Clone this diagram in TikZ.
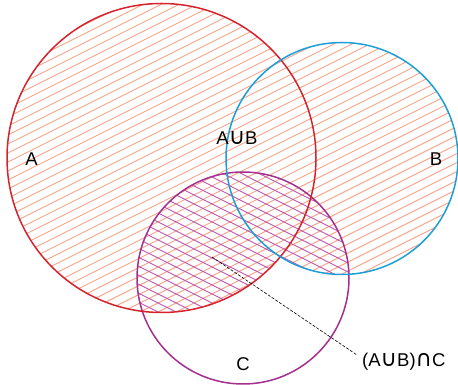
\documentclass[tikz,border=0pt]{standalone}
\usepackage{fontspec}
\setmainfont{Liberation Sans}
\newfontfamily\symfont{DejaVu Sans}
\newcommand{\setunion}{{\symfont\fontsize{22.5}{22.5}\selectfont ∪}}
\newcommand{\setinter}{{\symfont\fontsize{22.5}{22.5}\selectfont ∩}}
\definecolor{setred}{HTML}{D5232C}
\definecolor{setblue}{HTML}{1C9FD6}
\definecolor{setpurple}{HTML}{A3308D}
\definecolor{hatchred}{HTML}{F6A58A}
\definecolor{hatchpurple}{HTML}{BE55AE}
\tikzset{
  rim/.style={line width=1.5pt},
  hatch/.style={line width=0.9pt},
  lbl/.style={font=\fontsize{18.5}{21}\selectfont, inner sep=0pt},
}
\begin{document}
\begin{tikzpicture}[x=1pt,y=1pt]
\useasboundingbox (0,0) rectangle (458,385);
% centres of the three sets
\coordinate (ca) at (161.5,227);
\coordinate (cb) at (342,226.5);
\coordinate (cc) at (243,107);
% A union B: rising hatch
\begin{scope}
  \clip (ca) circle (154.5) (cb) circle (116);
  \foreach \c in {-240,-231,...,400}
    \draw[hatch, hatchred] (0,\c) -- (460,\c+230);
\end{scope}
% (A union B) intersect C: falling hatch on top
\begin{scope}
  \clip (ca) circle (154.5) (cb) circle (116);
  \clip (cc) circle (106);
  \foreach \c in {-10,-1,...,640}
    \draw[hatch, hatchpurple] (0,\c) -- (460,\c-230);
\end{scope}
% outlines
\draw[rim, setpurple] (cc) circle (106);
\draw[rim, setred] (ca) circle (154.5);
\draw[rim, setblue] (cb) circle (116);
% labels
\node[lbl] (la) at (31.5,226) {A};
\node[lbl] (lb) at (436,226) {B};
\node[lbl] (lab) at (237,247) {A\setunion B};
\node[lbl] (lc) at (243,21) {C};
\node[lbl, anchor=west] (lres) at (362,23) {(A\setunion B)\setinter C};
\coordinate (pin) at (212,128);
\coordinate (tail) at (357,30);
\draw[dashed, line width=0.6pt, dash pattern=on 3pt off 1.5pt] (pin) -- (tail);
\end{tikzpicture}
\end{document}
